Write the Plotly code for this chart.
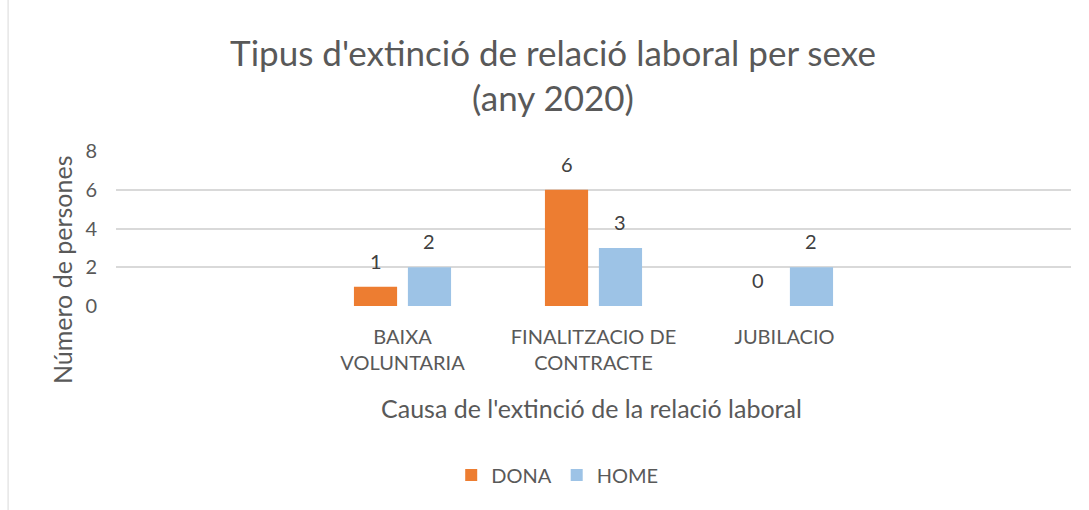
import plotly.graph_objects as go

categories = ["BAIXA<br>VOLUNTARIA", "FINALITZACIO DE<br>CONTRACTE", "JUBILACIO"]
dona = [1, 6, 0]
home = [2, 3, 2]
y_ticks = [0, 2, 4, 6, 8]

FONT = "Lato"
TXT = "#595959"
BARGAP = 0.435

fig = go.Figure()
fig.add_trace(go.Bar(x=categories, y=dona, name="DONA", marker_color="#ED7D31", marker_line_width=0))
fig.add_trace(go.Bar(x=categories, y=home, name="HOME", marker_color="#9DC3E6", marker_line_width=0))

# data labels via annotations placed from the data (at each bar's centre)
off = (1 - BARGAP) / 4
for i, c in enumerate(categories):
    for val, shift in ((dona[i], -off), (home[i], off)):
        fig.add_annotation(x=i + shift, y=val, text=str(val), showarrow=False,
                           yanchor="bottom", yshift=12,
                           font=dict(family=FONT, size=20, color="#404040"))

# axis titles
fig.add_annotation(text="Causa de l'extinció de la relació laboral", xref="paper", yref="paper",
                   x=0.498, y=-0.658, xanchor="center", yanchor="middle", showarrow=False,
                   font=dict(family=FONT, size=25, color=TXT))
fig.add_annotation(text="Número de persones", xref="paper", yref="paper", textangle=-90,
                   x=-0.0565, y=0.232, xanchor="center", yanchor="middle", showarrow=False,
                   font=dict(family=FONT, size=25, color=TXT))

fig.add_shape(type="line", xref="paper", yref="paper", x0=-0.113, x1=-0.113, y0=-1.4, y1=2.1,
              line=dict(color="#D9D9D9", width=1))

fig.update_layout(
    width=1089, height=510,
    margin=dict(l=116, r=18, t=151, b=204, autoexpand=False),
    paper_bgcolor="white", plot_bgcolor="white",
    barmode="group", bargap=BARGAP, bargroupgap=0.2,
    title=dict(text="Tipus d'extinció de relació laboral per sexe<br>(any 2020)",
               x=0.4576, xref="paper", xanchor="center", y=0.871, yanchor="middle",
               font=dict(family=FONT, size=35, color=TXT)),
    font=dict(family=FONT, color=TXT),
    xaxis=dict(range=[-1.5, 3.5], showline=False, ticks="", automargin=False,
               tickfont=dict(size=20, color=TXT), ticklabelstandoff=17),
    yaxis=dict(range=[0, 8], tickvals=y_ticks, showgrid=True, gridcolor="#D9D9D9", gridwidth=1.5,
               zeroline=False, automargin=False, tickfont=dict(size=20, color=TXT), ticklabelstandoff=18),
    legend=dict(orientation="h", x=0.462, xanchor="center", y=-1.09, yanchor="middle",
                font=dict(size=20, color=TXT), itemwidth=30, traceorder="normal"),
    showlegend=True,
)

fig.write_html("out.html", config={"displayModeBar": False},
               post_script="document.body.style.margin='0';")
